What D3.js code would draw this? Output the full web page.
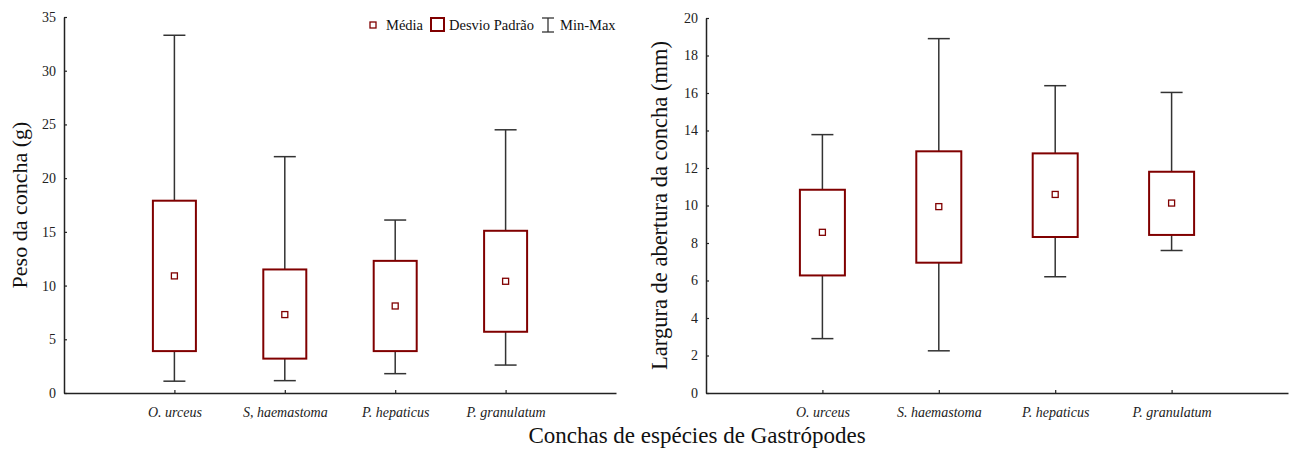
<!DOCTYPE html>
<meta charset="utf-8">
<script src="https://d3js.org/d3.v7.min.js"></script>
<style>
  body { margin: 0; background: #fff; }
</style>
<div id="my_dataviz"></div>

<script>
// species (x categories)
var species = ["O. urceus", "S, haemastoma", "P. hepaticus", "P. granulatum"];
var speciesRight = ["O. urceus", "S. haemastoma", "P. hepaticus", "P. granulatum"];

// shell weight (g)
var pesoMin  = [1.1, 1.15, 1.8, 2.6];
var pesoLow  = [3.9, 3.2, 3.9, 5.7];   // mean - sd
var pesoMean = [10.9, 7.3, 8.1, 10.4];
var pesoHigh = [17.9, 11.5, 12.3, 15.1]; // mean + sd
var pesoMax  = [33.3, 22.0, 16.1, 24.5];
var pesoTicks = [0, 5, 10, 15, 20, 25, 30, 35];

// aperture width (mm)
var largMin  = [2.9, 2.25, 6.2, 7.6];
var largLow  = [6.27, 6.95, 8.32, 8.43];
var largMean = [8.57, 9.94, 10.59, 10.13];
var largHigh = [10.84, 12.89, 12.78, 11.8];
var largMax  = [13.78, 18.9, 16.39, 16.03];
var largTicks = [0, 2, 4, 6, 8, 10, 12, 14, 16, 18, 20];

var SERIF = "'Liberation Serif', 'DejaVu Serif', serif";

var W = 1293, H = 450;
var svg = d3.select("#my_dataviz")
  .append("svg")
    .attr("width", W)
    .attr("height", H);

function panel(opts) {
  var g = svg.append("g");

  var x = d3.scalePoint()
    .domain(opts.cats)
    .range([opts.x0, opts.x1])
    .padding(1);

  var y = d3.scaleLinear()
    .domain(opts.yDomain)
    .range([opts.yBottom, opts.yTop]);

  // Y axis
  var yAxis = g.append("g")
    .attr("transform", "translate(" + opts.x0 + ",0)")
    .call(d3.axisLeft(y).tickValues(opts.ticks).tickSizeInner(-3).tickSizeOuter(0).tickPadding(8));
  yAxis.select(".domain").attr("stroke", "#222").attr("stroke-width", 1.5);
  yAxis.selectAll(".tick line").attr("stroke", "#222").attr("stroke-width", 1.2);
  yAxis.selectAll(".tick text")
    .style("font-family", SERIF).style("font-size", "14px").attr("fill", "#222");

  // X axis
  var xAxis = g.append("g")
    .attr("transform", "translate(0," + opts.yBottom + ")")
    .call(d3.axisBottom(x).tickSizeInner(-3).tickSizeOuter(0).tickPadding(14));
  xAxis.select(".domain").attr("stroke", "#222").attr("stroke-width", 1.5);
  xAxis.selectAll(".tick line").attr("stroke", "#222").attr("stroke-width", 1.2);
  xAxis.selectAll(".tick text")
    .style("font-family", SERIF).style("font-size", "14px")
    .style("font-style", "italic").attr("fill", "#222");

  // Y title
  g.append("text")
    .attr("text-anchor", "middle")
    .attr("transform", "translate(" + opts.titleX + "," + ((opts.yTop + opts.yBottom) / 2) + ") rotate(-90)")
    .style("font-family", SERIF).style("font-size", opts.titleSize + "px").attr("fill", "#111")
    .text(opts.title);

  var boxW = opts.boxW, capW = 22;
  var data = opts.cats.map(function (c, i) {
    return { c: c, min: opts.min[i], low: opts.low[i], mean: opts.mean[i], high: opts.high[i], max: opts.max[i] };
  });

  var items = g.append("g").selectAll("g").data(data).enter().append("g");

  // whisker
  items.append("line")
    .attr("x1", function (d) { return x(d.c); })
    .attr("x2", function (d) { return x(d.c); })
    .attr("y1", function (d) { return y(d.min); })
    .attr("y2", function (d) { return y(d.max); })
    .attr("stroke", "#333").attr("stroke-width", 1.5);
  items.append("line")
    .attr("x1", function (d) { return x(d.c) - capW / 2; })
    .attr("x2", function (d) { return x(d.c) + capW / 2; })
    .attr("y1", function (d) { return y(d.min); })
    .attr("y2", function (d) { return y(d.min); })
    .attr("stroke", "#333").attr("stroke-width", 1.5);
  items.append("line")
    .attr("x1", function (d) { return x(d.c) - capW / 2; })
    .attr("x2", function (d) { return x(d.c) + capW / 2; })
    .attr("y1", function (d) { return y(d.max); })
    .attr("y2", function (d) { return y(d.max); })
    .attr("stroke", "#333").attr("stroke-width", 1.5);

  // sd box
  items.append("rect")
    .attr("x", function (d) { return x(d.c) - boxW / 2; })
    .attr("width", boxW)
    .attr("y", function (d) { return y(d.high); })
    .attr("height", function (d) { return y(d.low) - y(d.high); })
    .attr("fill", "#fff").attr("stroke", "#800000").attr("stroke-width", 2);

  // mean
  items.append("rect")
    .attr("x", function (d) { return x(d.c) - 3; })
    .attr("y", function (d) { return y(d.mean) - 3; })
    .attr("width", 6).attr("height", 6)
    .attr("fill", "#fff").attr("stroke", "#800000").attr("stroke-width", 1.3);
}

panel({
  cats: species, x0: 64, x1: 616, yTop: 17, yBottom: 393,
  yDomain: [0, 35], ticks: pesoTicks, titleX: 27, boxW: 43, titleSize: 22,
  title: "Peso da concha (g)",
  min: pesoMin, low: pesoLow, mean: pesoMean, high: pesoHigh, max: pesoMax
});

panel({
  cats: speciesRight, x0: 706, x1: 1288, yTop: 18, yBottom: 393,
  yDomain: [0, 20], ticks: largTicks, titleX: 667, boxW: 45, titleSize: 22.5,
  title: "Largura de abertura da concha (mm)",
  min: largMin, low: largLow, mean: largMean, high: largHigh, max: largMax
});

// shared x title
svg.append("text")
  .attr("x", 697).attr("y", 443)
  .attr("text-anchor", "middle")
  .style("font-family", SERIF).style("font-size", "23px").attr("fill", "#111")
  .text("Conchas de espécies de Gastrópodes");

// legend
var leg = svg.append("g");
leg.append("rect").attr("x", 370).attr("y", 22).attr("width", 6).attr("height", 6)
  .attr("fill", "#fff").attr("stroke", "#800000").attr("stroke-width", 1.3);
leg.append("text").attr("x", 386).attr("y", 30).text("Média");
leg.append("rect").attr("x", 431).attr("y", 18).attr("width", 13).attr("height", 13)
  .attr("fill", "#fff").attr("stroke", "#800000").attr("stroke-width", 2);
leg.append("text").attr("x", 449).attr("y", 30).text("Desvio Padrão");
leg.append("line").attr("x1", 548).attr("x2", 548).attr("y1", 18).attr("y2", 32)
  .attr("stroke", "#333").attr("stroke-width", 1.3);
leg.append("line").attr("x1", 542).attr("x2", 554).attr("y1", 18).attr("y2", 18)
  .attr("stroke", "#333").attr("stroke-width", 1.3);
leg.append("line").attr("x1", 542).attr("x2", 554).attr("y1", 32).attr("y2", 32)
  .attr("stroke", "#333").attr("stroke-width", 1.3);
leg.append("text").attr("x", 560).attr("y", 30).text("Min-Max");
leg.selectAll("text").style("font-family", SERIF).style("font-size", "14.5px").attr("fill", "#111");
</script>
